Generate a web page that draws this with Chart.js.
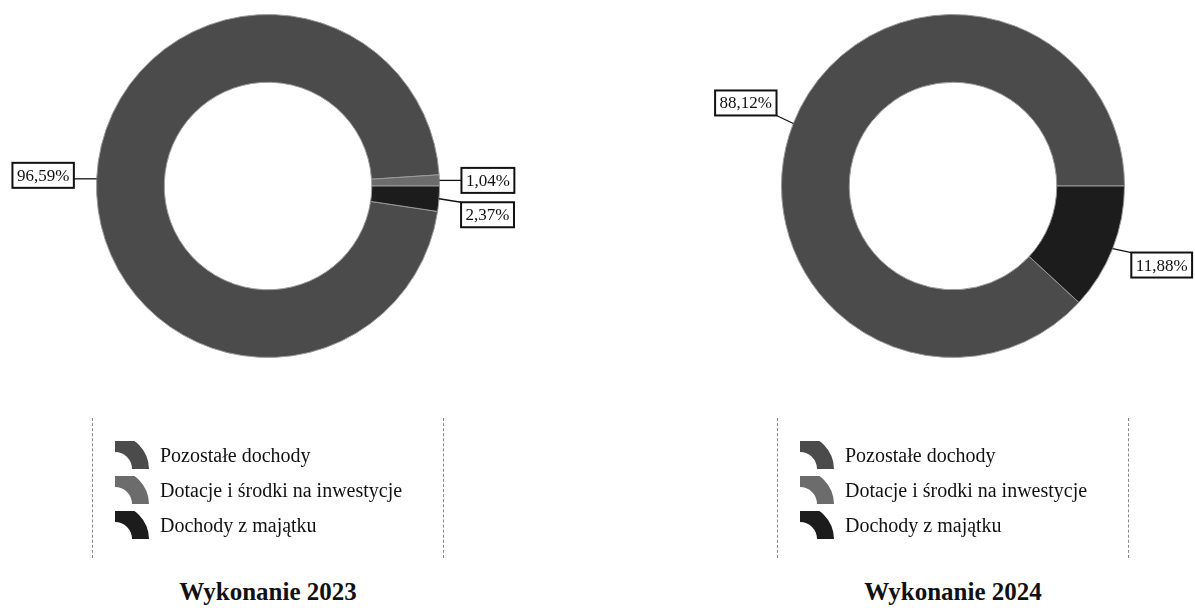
<!DOCTYPE html>
<html>
<head>
<meta charset="utf-8">
<script src="https://cdn.jsdelivr.net/npm/chart.js@4.4.1/dist/chart.umd.min.js"></script>
<style>
  html, body { margin: 0; padding: 0; background: #ffffff; }
  body { width: 1195px; height: 608px; position: relative; overflow: hidden; font-family: "Liberation Serif", "DejaVu Serif", serif; }
  .panel { position: absolute; top: 0; height: 400px; }
  .legend { position: absolute; top: 418px; height: 140px; border-left: 1px dashed #8a8a8a; border-right: 1px dashed #8a8a8a; }
  .item { position: absolute; height: 28px; display: flex; align-items: center; white-space: nowrap; font-size: 20px; color: #111; }
  .item canvas { margin-right: 10px; }
  .title { position: absolute; top: 578px; width: 400px; text-align: center; font-weight: bold; font-size: 25px; color: #111; }
</style>
</head>
<body>
<div class="panel" id="p0" style="left:0px;width:597px;"><canvas id="c0" width="597" height="400"></canvas></div>
<div class="panel" id="p1" style="left:597px;width:598px;"><canvas id="c1" width="598" height="400"></canvas></div>
<script>
// ---- data ----
const categories = ['Pozostałe dochody', 'Dotacje i środki na inwestycje', 'Dochody z majątku'];
const values2023 = [96.59, 1.04, 2.37];
const values2024 = [88.12, 0, 11.88];
const chartTitles = ['Wykonanie 2023', 'Wykonanie 2024'];

// ---- styles ----
const sliceColors = ['#4b4b4b', '#6c6c6c', '#1c1c1c'];
const panels = [
  { canvas: 'c0', values: values2023, title: chartTitles[0], left: 0, width: 597, cx: 268,
    padding: { left: 96, right: 157, top: 14, bottom: 42 },
    offsets: [[-53.5, -3.5], [48.5, 0], [48.5, 16]] },
  { canvas: 'c1', values: values2024, title: chartTitles[1], left: 597, width: 598, cx: 953,
    padding: { left: 184, right: 70, top: 14, bottom: 42 },
    offsets: [[-47.5, -20.5], [48, 0], [49, 16.5]] }
];

function fmt(v) { return v.toFixed(2).replace('.', ',') + '%'; }

const boxLabels = {
  id: 'boxLabels',
  afterDatasetsDraw(chart, args, opts) {
    const ctx = chart.ctx;
    const meta = chart.getDatasetMeta(0);
    const data = chart.data.datasets[0].data;
    ctx.save();
    ctx.font = '17px "Liberation Serif", serif';
    ctx.textAlign = 'center';
    ctx.textBaseline = 'middle';
    meta.data.forEach((arc, i) => {
      const v = data[i];
      if (!v) return;
      const p = arc.getProps(['x', 'y', 'startAngle', 'endAngle', 'outerRadius'], true);
      const mid = (p.startAngle + p.endAngle) / 2;
      const ax = p.x + Math.cos(mid) * p.outerRadius;
      const ay = p.y + Math.sin(mid) * p.outerRadius;
      const off = opts.offsets[i];
      const bx = ax + off[0], by = ay + off[1];
      const txt = fmt(v);
      const w = ctx.measureText(txt).width + 9;
      const h = 25;
      const x0 = bx - w / 2, y0 = by - h / 2;
      const tx = Math.min(Math.max(ax, x0), x0 + w);
      const ty = Math.min(Math.max(ay, y0), y0 + h);
      ctx.strokeStyle = '#111';
      ctx.lineWidth = 1.3;
      ctx.beginPath();
      ctx.moveTo(ax, ay);
      ctx.lineTo(tx, ty);
      ctx.stroke();
      ctx.fillStyle = '#ffffff';
      ctx.fillRect(x0, y0, w, h);
      ctx.lineWidth = 2;
      ctx.strokeRect(x0, y0, w, h);
      ctx.fillStyle = '#111';
      ctx.fillText(txt, bx, by + 1);
    });
    ctx.restore();
  }
};

function drawIcon(cv, color) {
  const c = cv.getContext('2d');
  c.fillStyle = color;
  c.beginPath();
  c.arc(0, 28, 34, -Math.PI / 2, 0);
  c.arc(0, 28, 17, 0, -Math.PI / 2, true);
  c.closePath();
  c.fill();
}

panels.forEach((pn) => {
  new Chart(document.getElementById(pn.canvas), {
    type: 'doughnut',
    data: {
      labels: categories,
      datasets: [{
        data: pn.values,
        backgroundColor: sliceColors,
        borderColor: '#9a9a9a',
        borderWidth: 1
      }]
    },
    options: {
      responsive: false,
      animation: false,
      devicePixelRatio: 1,
      cutout: '60.5%',
      rotation: 90 + pn.values[2] * 3.6,
      layout: { padding: pn.padding },
      plugins: {
        legend: { display: false },
        tooltip: { enabled: false },
        boxLabels: { offsets: pn.offsets }
      }
    },
    plugins: [boxLabels]
  });

  // legend (HTML)
  const lg = document.createElement('div');
  lg.className = 'legend';
  lg.style.left = (pn.cx - 176) + 'px';
  lg.style.width = '350px';
  document.body.appendChild(lg);
  const rowY = [455, 490, 525];
  categories.forEach((name, i) => {
    const it = document.createElement('div');
    it.className = 'item';
    it.style.left = '22px';
    it.style.top = (rowY[i] - 418 - 14) + 'px';
    const cv = document.createElement('canvas');
    cv.width = 35; cv.height = 28;
    drawIcon(cv, sliceColors[i]);
    it.appendChild(cv);
    const sp = document.createElement('span');
    sp.textContent = name;
    it.appendChild(sp);
    lg.appendChild(it);
  });

  const t = document.createElement('div');
  t.className = 'title';
  t.style.left = (pn.cx - 200) + 'px';
  t.textContent = pn.title;
  document.body.appendChild(t);
});
</script>
</body>
</html>
